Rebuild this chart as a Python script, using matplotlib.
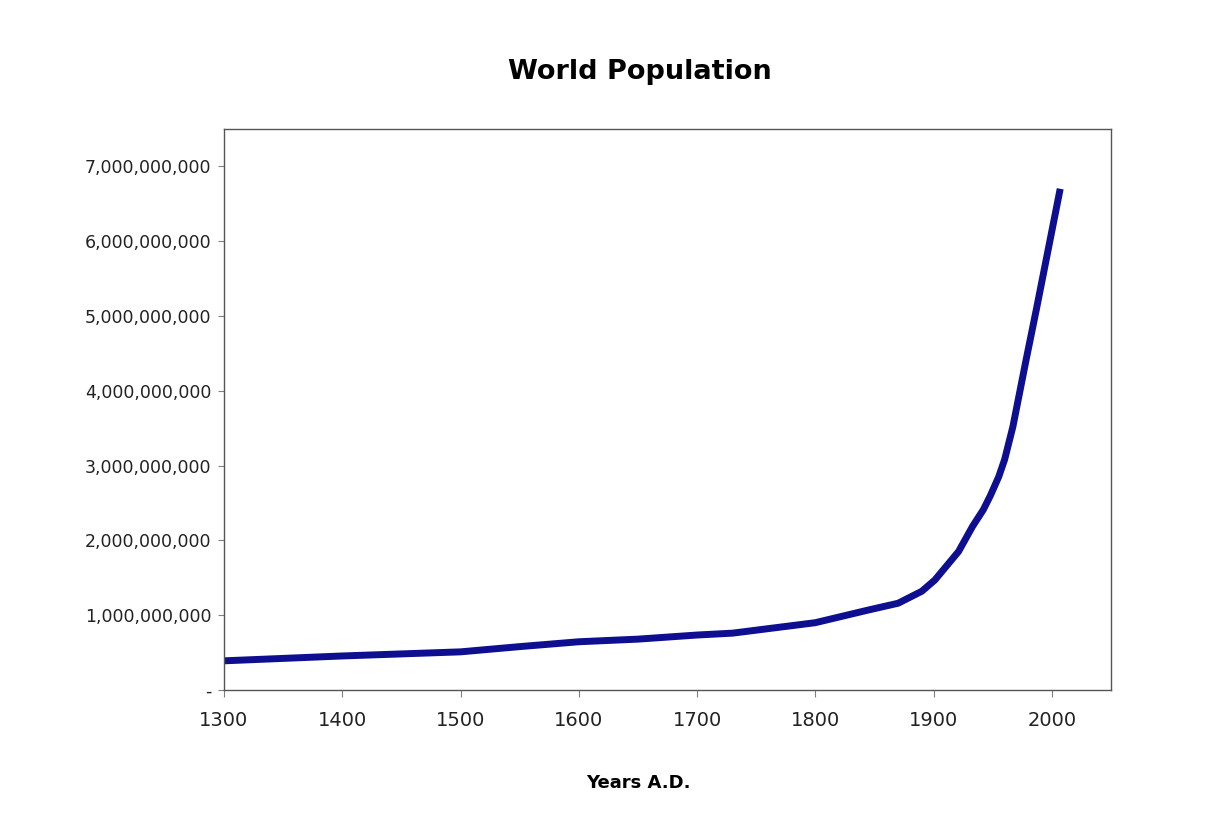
import matplotlib.pyplot as plt
from matplotlib.ticker import FuncFormatter

# values
years = [1300, 1400, 1500, 1550, 1600, 1650, 1700, 1730, 1750, 1800, 1845, 1870,
         1890, 1901, 1921, 1933, 1942, 1948, 1955, 1960, 1967, 1973, 1978, 1987, 1997, 2007]
population = [0.39, 0.455, 0.51, 0.58, 0.645, 0.68, 0.735, 0.76, 0.80, 0.90, 1.07, 1.16,
              1.32, 1.47, 1.85, 2.19, 2.41, 2.60, 2.85, 3.08, 3.52, 4.0, 4.4, 5.1, 5.9, 6.7]
population = [p * 1e9 for p in population]

x_ticks = [1300, 1400, 1500, 1600, 1700, 1800, 1900, 2000]
y_ticks = [0, 1e9, 2e9, 3e9, 4e9, 5e9, 6e9, 7e9]

plt.rcParams['font.family'] = ['DejaVu Sans']

fig = plt.figure(figsize=(12.14, 8.23), dpi=100)
ax = fig.add_axes([0.1845, 0.1616, 0.7307, 0.6817])

ax.plot(years, population, color='#0e0e90', linewidth=5, solid_capstyle='butt',
        solid_joinstyle='round')

ax.set_xlim(1300, 2050)
ax.set_ylim(0, 7.5e9)
ax.set_xticks(x_ticks)
ax.set_yticks(y_ticks)


def fmt(v, pos):
    return '-' if v == 0 else f'{int(v):,}'


ax.yaxis.set_major_formatter(FuncFormatter(fmt))
ax.tick_params(axis='x', labelsize=14, length=5, color='#808080', pad=10, labelcolor='#222222')
ax.tick_params(axis='y', labelsize=12.5, length=4, color='#808080', pad=5, labelcolor='#222222')
for s in ax.spines.values():
    s.set_color('#555555')
    s.set_linewidth(1.0)

fig.text(0.527, 0.912, 'World Population', ha='center', va='center',
         fontsize=19.5, fontweight='bold')
fig.text(0.526, 0.048, 'Years A.D.', ha='center', va='center',
         fontsize=13, fontweight='bold')

fig.savefig('out.png', dpi=100)
